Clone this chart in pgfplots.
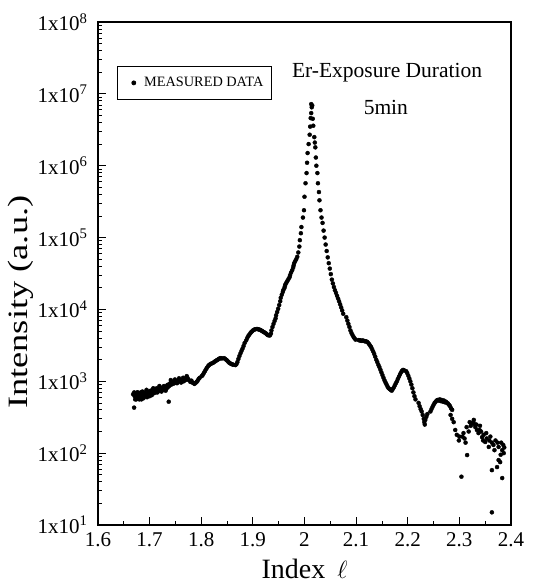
\documentclass[border=0pt]{standalone}
\usepackage{pgfplots}
\pgfplotsset{compat=1.18}
\usepackage{fontspec}
\setmainfont{Liberation Serif}

\begin{document}
\begin{tikzpicture}
\begin{axis}[
    scale only axis,
    width=413pt, height=503pt,
    ymode=log,
    xmin=1.6, xmax=2.4,
    ymin=1e1, ymax=1e8,
    xtick={1.6,1.7,1.8,1.9,2.0,2.1,2.2,2.3,2.4},
    xticklabels={1.6,1.7,1.8,1.9,2,2.1,2.2,2.3,2.4},
    minor x tick num=1,
    ytick={1e1,1e2,1e3,1e4,1e5,1e6,1e7,1e8},
    yticklabels={1x10\textsuperscript{1},1x10\textsuperscript{2},1x10\textsuperscript{3},1x10\textsuperscript{4},1x10\textsuperscript{5},1x10\textsuperscript{6},1x10\textsuperscript{7},1x10\textsuperscript{8}},
    tick align=inside,
    tick pos=left,
    major tick length=8pt,
    minor tick length=4pt,
    axis line style={line width=1.2pt},
    every tick/.style={black, line width=0.8pt},
    tick label style={font=\fontsize{21}{24}\selectfont},
    yticklabel style={xshift=-7pt},
    xticklabel style={yshift=-4pt},
    xlabel={Index\hspace{12pt}$\ell$},
    ylabel={\scalebox{1.3}[1]{Intensity (a.u.)}},
    label style={font=\fontsize{28}{30}\selectfont},
    xlabel style={yshift=-5pt},
    ylabel style={at={(ticklabel cs:0.443,-3pt)}},
    legend style={at={(rel axis cs:0.046,0.9125)}, anchor=north west,
        font=\fontsize{14.3}{16}\selectfont, draw=black, line width=0.8pt,
        inner xsep=6pt, inner ysep=9pt},
    legend cell align=left,
]

\addplot[only marks, mark=*, mark size=2pt, black,
    legend image code/.code={\path (0pt,0pt) (18pt,0pt); \fill[black] (10pt,0pt) circle (2pt);}] coordinates {
(1.670,430) (1.671,620) (1.672,560) (1.673,680) (1.674,600) (1.675,650) (1.676,580) (1.677,700) (1.679,620) (1.680,560)
(1.682,640) (1.683,700) (1.685,600) (1.687,660) (1.689,620) (1.691,700) (1.693,640) (1.695,600) (1.697,680) (1.699,720)
(1.701,660) (1.703,700) (1.706,760) (1.708,680) (1.710,740) (1.712,700) (1.714,800) (1.716,720) (1.718,780) (1.720,820)
(1.722,740) (1.724,800) (1.726,760) (1.728,860) (1.730,820) (1.732,780) (1.734,880) (1.736,900) (1.737,520) (1.738,860)
(1.740,940) (1.742,900) (1.744,960) (1.746,980) (1.748,940) (1.750,1000) (1.752,960) (1.754,1020)
(1.668,660) (1.670,700) (1.672,640) (1.674,560) (1.676,700) (1.678,600) (1.681,680) (1.684,560) (1.686,720) (1.688,580)
(1.690,660) (1.694,760) (1.696,640) (1.700,620) (1.702,740) (1.704,640) (1.707,800) (1.711,780) (1.715,700) (1.719,860)
(1.723,720) (1.727,840) (1.731,740) (1.735,820) (1.741,1040) (1.745,920) (1.749,1060) (1.753,940) (1.757,1100) (1.761,960)
(1.765,1120)
(1.758,1000) (1.760,1040) (1.762,980) (1.764,1060) (1.766,1000) (1.768,1080) (1.770,1040) (1.772,1180) (1.774,1100) (1.776,1040)
(1.779,980) (1.781,1020) (1.783,960) (1.785,940) (1.787,920) (1.789,950) (1.791,980) (1.793,1020) (1.795,1080) (1.797,1120)
(1.801,1180) (1.803,1230) (1.805,1300) (1.807,1380) (1.809,1460) (1.811,1540) (1.813,1620) (1.815,1680) (1.817,1720) (1.819,1760)
(1.822,1790) (1.824,1830) (1.826,1880) (1.828,1920) (1.830,1960) (1.832,2000) (1.834,2050) (1.836,2080) (1.838,2100) (1.840,2080)
(1.844,2100) (1.846,2060) (1.848,2000) (1.850,1950) (1.852,1880) (1.854,1820) (1.856,1780) (1.858,1740) (1.860,1720) (1.862,1700)
(1.866,1680) (1.868,1720) (1.870,1850) (1.872,2050) (1.874,2250) (1.876,2450) (1.878,2650) (1.880,2850) (1.882,3100) (1.884,3400)
(1.887,3700) (1.889,4000) (1.891,4250) (1.893,4450) (1.895,4650) (1.897,4850) (1.899,5000) (1.901,5150) (1.903,5250) (1.905,5300)
(1.908,5350) (1.910,5300) (1.912,5250) (1.914,5200) (1.916,5100) (1.918,5000) (1.920,4900) (1.922,4800) (1.924,4700) (1.926,4600)
(1.927,4500) (1.929,4400) (1.931,4350) (1.933,4350) (1.935,4600) (1.936,5100) (1.938,5700) (1.940,6300) (1.942,6900) (1.944,7500)
(1.945,8300) (1.947,9200) (1.949,10200) (1.951,11500) (1.953,13000) (1.954,14500) (1.956,16000) (1.958,17500) (1.959,18600) (1.961,19800)
(1.962,21000) (1.963,22300) (1.965,23600) (1.967,25000) (1.969,26500) (1.971,28000) (1.972,30000) (1.974,32500) (1.976,35000) (1.978,38000)
(1.979,41000) (1.980,44000) (1.982,47000) (1.984,50000) (1.986,54000) (1.988,62000) (1.990,75000) (1.991,92000) (1.993,115000)
(1.994,1.4e5) (1.997,1.9e5) (1.999,2.4e5) (2.000,3.7e5) (2.002,5.7e5) (2.004,7.9e5) (2.005,1.1e6) (2.006,1.5e6) (2.008,2.0e6) (2.010,2.7e6)
(2.011,3.5e6) (2.012,4.6e6) (2.013,5.4e6) (2.014,6.5e6) (2.013,7.2e6) (2.015,6.9e6) (2.016,4.5e6) (2.017,3.6e6) (2.019,2.5e6) (2.020,2.1e6)
(2.021,1.8e6) (2.022,1.3e6) (2.023,1.0e6) (2.025,7.9e5) (2.026,5.7e5) (2.028,4.3e5) (2.029,3.3e5) (2.031,2.4e5) (2.033,1.9e5) (2.035,1.6e5)
(2.037,1.25e5) (2.039,1.0e5)
(2.041,8.0e4) (2.043,6.5e4) (2.045,5.3e4) (2.047,4.4e4) (2.049,3.7e4) (2.051,3.1e4) (2.053,2.6e4) (2.055,2.3e4)
(2.057,2.05e4) (2.059,1.85e4) (2.061,1.7e4) (2.063,1.55e4) (2.065,1.42e4) (2.067,1.3e4) (2.069,1.18e4) (2.071,1.07e4) (2.073,9700) (2.075,8700)
(2.081,7800) (2.083,7000) (2.085,6300) (2.087,5700) (2.089,5100) (2.091,4700) (2.093,4400) (2.095,4150) (2.097,3950) (2.099,3800)
(2.105,3750) (2.107,3700) (2.109,3700) (2.111,3650) (2.113,3700) (2.115,3650) (2.117,3600) (2.119,3600) (2.121,3550) (2.123,3450)
(2.125,3300) (2.127,3150) (2.129,3000) (2.131,2800) (2.133,2600) (2.135,2400) (2.137,2200) (2.139,2000) (2.141,1850) (2.143,1700)
(2.145,1580) (2.147,1450) (2.149,1330) (2.151,1220) (2.153,1120) (2.155,1030) (2.157,960) (2.159,900) (2.161,840) (2.163,800)
(2.165,780) (2.167,760) (2.169,740) (2.171,780) (2.173,820) (2.175,880) (2.177,940) (2.179,1000) (2.181,1080) (2.183,1160)
(2.185,1250) (2.187,1330) (2.189,1400) (2.191,1440) (2.193,1420)
(2.197,1380) (2.199,1300) (2.201,1200) (2.203,1100) (2.205,1000) (2.207,900) (2.209,800) (2.211,700) (2.213,620) (2.215,560)
(2.221,500) (2.223,450) (2.225,410) (2.227,380) (2.229,340) (2.231,300) (2.232,270) (2.233,250) (2.234,290) (2.236,320) (2.238,350)
(2.244,380) (2.246,410) (2.248,440) (2.250,470) (2.252,500) (2.254,520) (2.256,540) (2.258,550) (2.260,540) (2.262,560)
(2.264,530) (2.266,550) (2.268,520) (2.270,540) (2.272,510) (2.274,520) (2.276,500) (2.278,490) (2.280,470) (2.282,450)
(2.284,420) (2.286,400)
(2.283,340) (2.286,300) (2.289,270) (2.292,210) (2.295,180) (2.299,150) (2.304,47) (2.306,170) (2.308,190) (2.310,160)
(2.312,140) (2.315,94) (2.318,200) (2.322,240) (2.325,260) (2.328,290) (2.330,250) (2.331,230) (2.334,210) (2.337,190)
(2.340,240) (2.342,200) (2.344,167) (2.347,180) (2.350,143) (2.353,160) (2.357,122) (2.360,170) (2.363,140) (2.363,58)
(2.363,15) (2.366,130) (2.370,150) (2.373,64) (2.376,122) (2.376,80) (2.379,75) (2.381,140) (2.383,110) (2.383,45)
(2.385,130) (2.386,100) (2.387,120)
(2.300,170) (2.314,230) (2.320,270) (2.327,270) (2.333,250) (2.339,210) (2.346,150) (2.352,190) (2.358,150) (2.368,110)
(2.374,140) (2.380,95)
};
\addlegendentry{MEASURED DATA}

\node[font=\fontsize{21.5}{24}\selectfont] at (rel axis cs:0.700,0.900) {Er-Exposure Duration};
\node[font=\fontsize{21.5}{24}\selectfont] at (rel axis cs:0.697,0.830) {5min};

\end{axis}
\path[use as bounding box] (current axis.south west) ++(-98pt,-59pt) rectangle ([xshift=22pt,yshift=22pt]current axis.north east);
\end{tikzpicture}
\end{document}
